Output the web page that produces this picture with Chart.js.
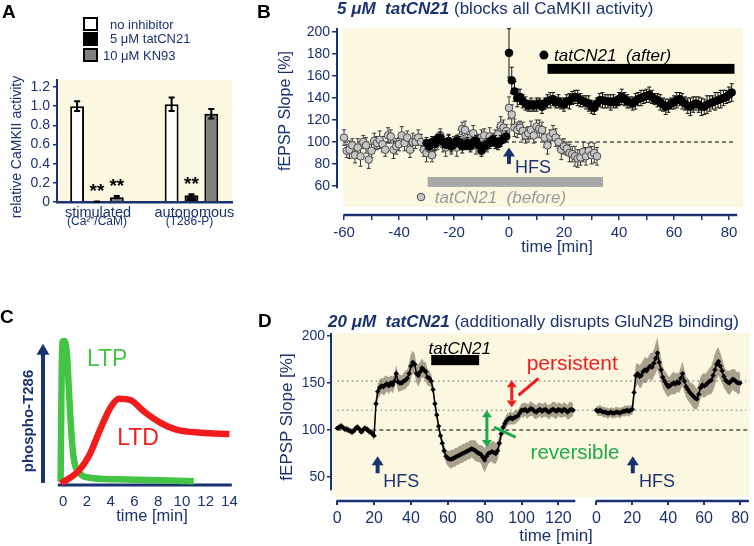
<!DOCTYPE html>
<html>
<head>
<meta charset="utf-8">
<script src="https://cdn.jsdelivr.net/npm/chart.js@4"></script>
<style>
body { margin: 0; width: 754px; height: 546px; position: relative; background: #fff; overflow: hidden;
       font-family: "Liberation Sans", Arial, sans-serif; }
canvas { position: absolute; }
.t { position: absolute; white-space: pre; color: #1a3270; }
.box { position: absolute; width: 11px; height: 10px; border: 2px solid #000; }
</style>
</head>
<body>
<canvas id="chartA" style="left:0;top:0" width="240" height="240"></canvas>
<canvas id="chartB" style="left:240px;top:0" width="514" height="270"></canvas>
<canvas id="chartC" style="left:0;top:290px" width="260" height="256"></canvas>
<canvas id="chartD" style="left:260px;top:290px" width="494" height="256"></canvas>

<div class="box" style="left:83px;top:17px;background:#fff"></div>
<div class="box" style="left:83px;top:32px;background:#000"></div>
<div class="box" style="left:83px;top:48px;background:#808080"></div>

<script>
const NAVY = '#1a3270';
const BEIGE = '#fcf7e1';
const FONT = '"Liberation Sans", Arial, sans-serif';

// ---------- Panel A data ----------
const aGroups = ['stimulated', 'autonomous'];
const aGroupSub = ['(Ca²⁺/CaM)', '(T286-P)'];
const aNoInhibitor = [1.00, 1.02];
const aNoInhibitorErr = [0.05, 0.07];
const aTatCN21 = [0.004, 0.07];
const aTatCN21Err = [0.002, 0.012];
const aKN93 = [0.05, 0.92];
const aKN93Err = [0.012, 0.05];
const aTatStars = ['**', '**'];
const aKN93Stars = ['**', ''];
const aYTicks = [0, 0.2, 0.4, 0.6, 0.8, 1.0, 1.2];

// ---------- Panel B data (1-min samples) ----------
const bBeforeStart = -60;
const bBefore = [104,92,93,97,88,95,87,100,97,84,92,101,99,102,98,93,106,105,93,96,98,106,99,104,93,100,100,104,100,93,
  90,94,88,96,100,106,98,95,100,96,99,95,104,112,111,100,104,108,97,101,104,106,98,105,102,104,107,115,113,110,
  131,125,113,111,113,110,106,108,111,106,114,112,111,104,97,105,108,104,100,93,96,94,90,89,87,85,86,91,87,92,88,90,87];
const bBeforeErr = [7,6,8,6,7,8,9,6,7,8,6,7,6,8,7,6,7,6,8,7,6,8,7,6,7,8,6,7,7,6,
  8,7,6,8,7,6,7,8,6,7,6,8,7,6,8,7,6,7,8,6,7,6,7,8,6,7,6,8,7,6,
  10,9,8,7,6,8,7,6,8,7,6,8,7,9,8,6,7,8,6,9,7,6,8,7,9,8,7,9,8,7,8,9,8];
const bAfterStart = -30;
const bAfter = [99,96,100,98,103,104,100,98,101,96,98,101,100,96,97,99,96,100,101,97,92,96,98,99,102,100,98,101,103,105,
  181,156,146,140,141,137,135,133,134,133,134,135,132,135,137,138,139,136,137,135,134,
  137,137,140,141,140,138,137,136,135,132, 131,135,138,138,137,137,136,137,136,139,
  141,139,137,136,135,137,139,140,141,142, 143,141,139,138,136,134,132,133,135,136,
  138,139,137,135,133,132,134,135,134,132, 132,134,135,136,137,138,139,140,141,143,145];
const bAfterErr = [5,4,5,6,4,5,5,4,6,5,4,5,5,6,4,5,5,4,5,6,5,4,5,5,4,6,5,5,4,5,
  22,12,9,8,7,6,6,5,6,5,6,5,6,5,6,7,6,5,6,5,6,
  6,7,6,6,7,6,5,6,7,6, 6,5,6,7,6,6,7,6,5,6, 7,6,6,5,6,7,6,7,6,6,
  7,6,5,6,7,6,7,6,5,6, 7,6,7,6,7,8,7,6,7,8, 7,8,7,6,8,7,8,7,6,7,8];
const bYTicks = [60, 80, 100, 120, 140, 160, 180, 200];
const bXTicks = [-60,-50,-40,-30,-20,-10,0,10,20,30,40,50,60,70,80];

// ---------- Panel C data ----------
const cLtpTime = [-0.22, -0.08, 0.11, 0.34, 0.48, 0.67, 0.9, 1.32, 2.0, 4.5, 11];
const cLtp = [0.005, 0.99, 1.0, 0.88, 0.65, 0.37, 0.16, 0.07, 0.035, 0.02, 0.007];
const cLtdTime = [-0.2, 1.3, 2.2, 3.1, 4.0, 4.7, 5.7, 6.8, 8.2, 9.6, 11.6, 14];
const cLtd = [-0.01, 0.08, 0.19, 0.37, 0.53, 0.59, 0.58, 0.5, 0.42, 0.37, 0.35, 0.34];
const cXTicks = [0, 2, 4, 6, 8, 10, 12, 14];

// ---------- Panel D data (1-min samples) ----------
const dLeft = [102,103,104,103,101,101,100,99,98,99,102,103,101,98,100,102,101,99,98,96,94,
  128,141,145,147,146,148,149,147,150,148, 152,160,151,150,150,152,153,155,160,168,
  172,170,160,158,162,166,164,162,156,155, 152,143,128,116,104,94,86,78,72,70,
  69,69,70,71,72,73,74,75,76,77, 78,79,80,79,78,76,75,74,71,68,
  72,75,76,77,76,75,78,86,96,103, 107,110,112,113,112,113,114,115,118,121,
  121,122,120,121,123,122,120,119,121,122, 120,121,122,120,119,121,122,121,120,122,
  121,120,122,121,119,121,122,121];
const dLeftErr = [3,3,4,3,3,4,3,3,4,3,3,4,3,3,4,3,3,4,3,4,5,
  8,8,9,8,9,10,8,9,8,9, 8,9,10,9,8,9,10,9,12,13, 12,11,10,12,11,10,9,10,9,8,
  7,6,6,6,5,5,6,6,7,8,
  9,10,9,10,9,10,9,10,9,10, 9,10,9,10,11,10,9,10,12,13, 12,11,10,11,12,11,10,8,7,6,
  6,7,6,7,6,7,7,6,7,7, 8,7,8,7,8,7,8,7,8,7, 8,7,8,7,8,7,8,9,8,7, 8,7,8,7,8,9,8,7];
const dRight = [121,120,121,120,119,119,118,118,119,118,118,119,119,118,119,120,120,121,120,121,122,
  140,158,160,157,158,162,164,163,166,168, 167,171,176,182,172,164,156,152,149,146,
  147,149,150,149,151,150,155,160,152,146, 143,140,138,136,134,133,138,145,148,147,
  148,150,152,153,158,164,170,173,168,163, 157,153,151,150,152,154,153,151,150,150];
const dRightErr = [5,5,6,5,6,5,6,5,5,6,5,6,5,6,5,5,6,5,6,5,6,
  10,12,11,12,13,12,14,13,12,14, 15,14,16,17,15,13,12,11,12,11, 10,11,12,11,10,11,12,13,12,11,
  12,11,12,13,12,11,12,11,12,13, 12,13,14,15,16,17,16,15,14,13, 12,11,12,13,12,11,12,11,12,11];
const dYTicks = [50, 100, 150, 200];
const dLeftTicks = [0, 20, 40, 60, 80, 100, 120];
const dRightTicks = [0, 20, 40, 60, 80];
// the second recording is drawn on the same x scale, shifted to the right
const dRightStart = 140.6;
const dRightScale = 0.975;

Chart.defaults.font.family = FONT;
Chart.defaults.color = NAVY;
Chart.defaults.animation = false;
Chart.defaults.plugins.legend.display = false;
Chart.defaults.plugins.tooltip.enabled = false;

// ---------- helpers ----------
function addText(html, x, cy, size, o = {}) {
    const d = document.createElement('div');
    d.className = 't';
    d.innerHTML = html;
    d.style.fontSize = size + 'px';
    d.style.lineHeight = size + 'px';
    d.style.left = x + 'px';
    d.style.top = cy + 'px';
    d.style.transform = o.rotate ? 'translate(-50%,-50%) rotate(-90deg)' : (o.center ? 'translate(-50%,-50%)' : 'translateY(-50%)');
    if (o.bold) d.style.fontWeight = 'bold';
    if (o.color) d.style.color = o.color;
    document.body.appendChild(d);
}

function txt(ctx, s, x, capY, font, size, color, align) {
    ctx.save();
    ctx.font = font.replace('SZ', size + 'px') + ' ' + FONT;
    ctx.fillStyle = color;
    ctx.textAlign = align || 'left';
    ctx.textBaseline = 'alphabetic';
    ctx.fillText(s, x, capY + size * 0.36);
    ctx.restore();
}

function arrow(ctx, x, yTail, yTip, color, lw, headW, headL, both) {
    const dir = Math.sign(yTip - yTail);
    ctx.save();
    ctx.strokeStyle = color;
    ctx.fillStyle = color;
    ctx.lineWidth = lw;
    ctx.beginPath();
    ctx.moveTo(x, both ? yTail + dir * headL : yTail);
    ctx.lineTo(x, yTip - dir * headL + dir);
    ctx.stroke();
    const head = (y, d) => {
        ctx.beginPath();
        ctx.moveTo(x, y);
        ctx.lineTo(x - headW / 2, y - d * headL);
        ctx.lineTo(x + headW / 2, y - d * headL);
        ctx.closePath();
        ctx.fill();
    };
    head(yTip, dir);
    if (both) head(yTail, -dir);
    ctx.restore();
}

function line(ctx, x1, y1, x2, y2, color, lw, dash) {
    ctx.save();
    ctx.strokeStyle = color;
    ctx.lineWidth = lw;
    if (dash) ctx.setLineDash(dash);
    ctx.beginPath();
    ctx.moveTo(x1, y1);
    ctx.lineTo(x2, y2);
    ctx.stroke();
    ctx.restore();
}

function drawErrors(chart, index) {
    const ds = chart.data.datasets[index];
    if (!ds.errors) return;
    const ctx = chart.ctx, ys = chart.scales.y;
    const meta = chart.getDatasetMeta(index);
    ctx.save();
    ctx.strokeStyle = ds.errorColor;
    ctx.lineWidth = ds.errorWidth;
    meta.data.forEach((el, i) => {
        const v = ds.data[i].y, e = ds.errors[i];
        const top = ys.getPixelForValue(v + e), bot = ys.getPixelForValue(v - e);
        const c = ds.capHalf;
        ctx.beginPath();
        ctx.moveTo(el.x, top); ctx.lineTo(el.x, bot);
        ctx.moveTo(el.x - c, top); ctx.lineTo(el.x + c, top);
        ctx.moveTo(el.x - c, bot); ctx.lineTo(el.x + c, bot);
        ctx.stroke();
    });
    ctx.restore();
}

const errorBars = {
    id: 'errorBars',
    beforeDatasetDraw(chart, args) { if (!chart.data.datasets[args.index].errorsOnTop) drawErrors(chart, args.index); },
    afterDatasetDraw(chart, args) { if (chart.data.datasets[args.index].errorsOnTop) drawErrors(chart, args.index); }
};

const toXY = (vals, start) => vals.map((v, i) => ({ x: start + i, y: v }));

// ---------- Panel A ----------
new Chart(document.getElementById('chartA'), {
    type: 'bar',
    data: {
        datasets: [
            { data: aNoInhibitor.map((v, i) => ({ x: i, y: v })), errors: aNoInhibitorErr, backgroundColor: '#ffffff' },
            { data: aTatCN21.map((v, i) => ({ x: i, y: v })), errors: aTatCN21Err, backgroundColor: '#000000', stars: aTatStars },
            { data: aKN93.map((v, i) => ({ x: i, y: v })), errors: aKN93Err, backgroundColor: '#808080', stars: aKN93Stars }
        ].map(d => Object.assign(d, {
            borderColor: '#000', borderWidth: 2, borderSkipped: 'bottom',
            barPercentage: 0.7, categoryPercentage: 0.6825,
            errorsOnTop: true, errorColor: '#000', errorWidth: 2, capHalf: 3
        }))
    },
    options: {
        responsive: false,
        layout: { padding: { top: 80, right: 8, left: 0, bottom: 0 } },
        scales: {
            x: {
                type: 'linear', min: -0.423, max: 1.429, offset: false,
                grid: { display: false, offset: false }, ticks: { display: false },
                border: { display: true, color: NAVY, width: 2.5 },
                afterFit(s) { s.height = 38; }
            },
            y: {
                min: 0, max: 1.273,
                afterBuildTicks(s) { s.ticks = aYTicks.map(v => ({ value: v })); },
                ticks: { font: { size: 14 }, padding: 3, callback: v => v === 0 ? '0' : v.toFixed(1) },
                grid: { drawOnChartArea: false, tickLength: 4, color: NAVY, lineWidth: 1.5 },
                border: { display: true, color: NAVY, width: 2 },
                afterFit(s) { s.width = 57; }
            }
        }
    },
    plugins: [errorBars, {
        id: 'panelA',
        beforeDraw(chart) {
            const { ctx, chartArea: a } = chart;
            ctx.save();
            ctx.fillStyle = BEIGE;
            ctx.fillRect(a.left, a.top, a.right - a.left, a.bottom - a.top);
            ctx.restore();
        },
        afterDraw(chart) {
            const { ctx, scales: { x, y } } = chart;
            aGroups.forEach((g, i) => {
                txt(ctx, g, x.getPixelForValue(i) + 1 + 2 * i, 212, 'SZ', 14.5, NAVY, 'center');
                txt(ctx, aGroupSub[i], x.getPixelForValue(i) - 2 * i, 221, 'SZ', 12, NAVY, 'center');
            });
            chart.data.datasets.forEach((ds, di) => {
                if (!ds.stars) return;
                chart.getDatasetMeta(di).data.forEach((el, i) => {
                    if (!ds.stars[i]) return;
                    const top = y.getPixelForValue(ds.data[i].y + ds.errors[i]);
                    txt(ctx, ds.stars[i], el.x, top - 11, 'bold SZ', 19, '#000', 'center');
                });
            });
        }
    }]
});

// ---------- Panel B ----------
new Chart(document.getElementById('chartB'), {
    type: 'scatter',
    data: {
        datasets: [
            { data: toXY(bAfter, bAfterStart), errors: bAfterErr, errorColor: '#111', errorWidth: 1, capHalf: 2,
              pointRadius: 3.8, pointBackgroundColor: '#000', pointBorderColor: '#000', pointBorderWidth: 1 },
            { data: toXY(bBefore, bBeforeStart), errors: bBeforeErr, errorColor: '#3a3a3a', errorWidth: 1, capHalf: 2,
              pointRadius: 3.8, pointBackgroundColor: '#c6c6c6', pointBorderColor: '#4a4a4a', pointBorderWidth: 1 }
        ]
    },
    options: {
        responsive: false,
        layout: { padding: { top: 28, right: 11, left: 0, bottom: 0 } },
        scales: {
            x: {
                type: 'linear', min: -62.55, max: 85.1,
                afterBuildTicks(s) { s.ticks = bXTicks.map(v => ({ value: v })); },
                ticks: { font: { size: 15 }, padding: 4, autoSkip: false, maxRotation: 0,
                         callback: v => v % 20 === 0 ? v : '' },
                grid: { drawOnChartArea: false, tickLength: 5, color: NAVY, lineWidth: 1.5 },
                border: { display: false },
                afterFit(s) { s.height = 55; }
            },
            y: {
                min: 33.64, max: 203.64,
                afterBuildTicks(s) { s.ticks = bYTicks.map(v => ({ value: v })); },
                ticks: { font: { size: 14 }, padding: 2 },
                grid: { drawOnChartArea: false, tickLength: 5, color: NAVY, lineWidth: 1.5 },
                border: { display: false },
                afterFit(s) { s.width = 97; }
            }
        }
    },
    plugins: [errorBars, {
        id: 'panelB',
        beforeDraw(chart) {
            const { ctx, chartArea: a, scales: { x, y } } = chart;
            ctx.save();
            ctx.fillStyle = BEIGE;
            const l = x.getPixelForValue(-60.2), b = y.getPixelForValue(40.9);
            ctx.fillRect(l, a.top, a.right - l, b - a.top);
            ctx.restore();
            line(ctx, x.getPixelForValue(-60), y.getPixelForValue(100), x.getPixelForValue(81.5), y.getPixelForValue(100), '#000', 1, [4, 3]);
            line(ctx, a.left, a.top, a.left, y.getPixelForValue(58), NAVY, 2);
            line(ctx, x.getPixelForValue(-60.2), a.bottom, x.getPixelForValue(83), a.bottom, NAVY, 2.5);
        },
        afterDatasetsDraw(chart) {
            const { ctx, scales: { x, y } } = chart;
            // bars marking drug application
            ctx.save();
            ctx.fillStyle = '#000';
            ctx.fillRect(x.getPixelForValue(14), y.getPixelForValue(171), x.getPixelForValue(82) - x.getPixelForValue(14), y.getPixelForValue(162) - y.getPixelForValue(171));
            ctx.fillStyle = '#a8a8a8';
            ctx.fillRect(x.getPixelForValue(-29.6), y.getPixelForValue(68.2), x.getPixelForValue(34.2) - x.getPixelForValue(-29.6), y.getPixelForValue(59.2) - y.getPixelForValue(68.2));
            ctx.beginPath();
            ctx.arc(x.getPixelForValue(12.7), y.getPixelForValue(179), 4.5, 0, Math.PI * 2);
            ctx.fillStyle = '#000';
            ctx.fill();
            ctx.beginPath();
            ctx.arc(x.getPixelForValue(-32), y.getPixelForValue(50), 3.8, 0, Math.PI * 2);
            ctx.fillStyle = '#c6c6c6';
            ctx.fill();
            ctx.strokeStyle = '#4a4a4a';
            ctx.stroke();
            ctx.restore();
            txt(ctx, 'tatCN21  (after)', x.getPixelForValue(16.4), y.getPixelForValue(179), 'italic SZ', 17, '#000');
            txt(ctx, 'tatCN21  (before)', x.getPixelForValue(-27), y.getPixelForValue(50), 'italic SZ', 17, '#9a9a9a');
            arrow(ctx, x.getPixelForValue(0), y.getPixelForValue(80), y.getPixelForValue(95), NAVY, 4, 12, 9);
            txt(ctx, 'HFS', x.getPixelForValue(2.2), y.getPixelForValue(78), 'SZ', 18, NAVY);
        }
    }]
});

// ---------- Panel C ----------
new Chart(document.getElementById('chartC'), {
    type: 'line',
    data: {
        datasets: [
            { data: cLtdTime.map((t, i) => ({ x: t, y: cLtd[i] })), borderColor: '#f21c1c' },
            { data: cLtpTime.map((t, i) => ({ x: t, y: cLtp[i] })), borderColor: '#44c444' }
        ].map(d => Object.assign(d, { borderWidth: 6.5, pointRadius: 0, cubicInterpolationMode: 'monotone', borderCapStyle: 'butt' }))
    },
    options: {
        responsive: false,
        layout: { padding: { top: 48, right: 27, left: 43, bottom: 0 } },
        scales: {
            x: {
                type: 'linear', min: -1.7, max: 14.3,
                afterBuildTicks(s) { s.ticks = cXTicks.map(v => ({ value: v })); },
                ticks: { font: { size: 15 }, padding: 8, autoSkip: false, maxRotation: 0 },
                grid: { display: false, drawTicks: false },
                border: { display: false },
                afterFit(s) { s.height = 61; }
            },
            y: { display: false, min: -0.02, max: 1.02 }
        }
    },
    plugins: [{
        id: 'panelC',
        beforeDatasetsDraw(chart) {
            const { ctx, chartArea: a, scales: { x, y } } = chart;
            line(ctx, x.getPixelForValue(-0.45), a.bottom, x.getPixelForValue(14.2), a.bottom, NAVY, 3);
            arrow(ctx, a.left, y.getPixelForValue(-0.005), y.getPixelForValue(0.98), NAVY, 4, 13, 11);
        },
        afterDatasetsDraw(chart) {
            const { ctx, scales: { x, y } } = chart;
            txt(ctx, 'LTP', x.getPixelForValue(2.0), y.getPixelForValue(0.88), 'SZ', 23, '#44c444');
            txt(ctx, 'LTD', x.getPixelForValue(4.55), y.getPixelForValue(0.32), 'SZ', 23, '#f21c1c');
        }
    }]
});

// ---------- Panel D ----------
const dJoin = (l, r) => [
    ...l.map((v, i) => ({ x: i, y: v })),
    { x: (l.length + dRightStart) / 2, y: null },
    ...r.map((v, i) => ({ x: dRightStart + dRightScale * i, y: v }))
];
const dTickVals = [...dLeftTicks, ...dRightTicks.map(t => dRightStart + dRightScale * t)];
const dTickLabels = [...dLeftTicks, ...dRightTicks];

new Chart(document.getElementById('chartD'), {
    type: 'line',
    data: {
        datasets: [
            { data: dJoin(dLeft, dRight), borderColor: '#000', borderWidth: 1.5, pointStyle: 'rectRot',
              pointRadius: 2.7, pointBackgroundColor: '#000', pointBorderWidth: 0, order: 0 },
            { data: dJoin(dLeft.map((v, i) => v + dLeftErr[i]), dRight.map((v, i) => v + dRightErr[i])),
              borderWidth: 0, pointRadius: 0, fill: '+1', backgroundColor: 'rgba(100,90,75,0.55)', order: 1 },
            { data: dJoin(dLeft.map((v, i) => v - dLeftErr[i]), dRight.map((v, i) => v - dRightErr[i])),
              borderWidth: 0, pointRadius: 0, order: 2 }
        ]
    },
    options: {
        responsive: false,
        spanGaps: false,
        layout: { padding: { top: 43, right: 1, left: 0, bottom: 0 } },
        scales: {
            x: {
                type: 'linear', min: -3.4, max: 224,
                afterBuildTicks(s) { s.ticks = dTickVals.map(v => ({ value: v })); },
                ticks: { font: { size: 16 }, padding: 4, autoSkip: false, maxRotation: 0,
                         callback: (v, i) => dTickLabels[i] },
                grid: { drawOnChartArea: false, tickLength: 4, color: NAVY, lineWidth: 2 },
                border: { display: false },
                afterFit(s) { s.height = 45; }
            },
            y: {
                min: 24.5, max: 203.2,
                afterBuildTicks(s) { s.ticks = dYTicks.map(v => ({ value: v })); },
                ticks: { font: { size: 14 }, padding: 2 },
                grid: { drawOnChartArea: false, tickLength: 4, color: NAVY, lineWidth: 1.5 },
                border: { display: false },
                afterFit(s) { s.width = 71; }
            }
        }
    },
    plugins: [{
        id: 'panelD',
        beforeDraw(chart) {
            const { ctx, chartArea: a, scales: { x, y } } = chart;
            ctx.save();
            ctx.fillStyle = BEIGE;
            ctx.fillRect(a.left, a.top, a.right - a.left, y.getPixelForValue(28.7) - a.top);
            ctx.restore();
            line(ctx, x.getPixelForValue(0), y.getPixelForValue(152), x.getPixelForValue(222), y.getPixelForValue(152), '#a0a0a0', 1.6, [1.6, 3.2]);
            line(ctx, x.getPixelForValue(0), y.getPixelForValue(121), x.getPixelForValue(222), y.getPixelForValue(121), '#a0a0a0', 1.6, [1.6, 3.2]);
            line(ctx, x.getPixelForValue(0), y.getPixelForValue(100), x.getPixelForValue(223), y.getPixelForValue(100), '#000', 1.2, [4, 3]);
            line(ctx, a.left, a.top, a.left, y.getPixelForValue(36), NAVY, 2);
            line(ctx, x.getPixelForValue(-0.5), a.bottom, x.getPixelForValue(129.2), a.bottom, NAVY, 2.5);
            line(ctx, x.getPixelForValue(140.3), a.bottom, x.getPixelForValue(223.4), a.bottom, NAVY, 2.5);
        },
        afterDatasetsDraw(chart) {
            const { ctx, scales: { x, y } } = chart;
            ctx.save();
            ctx.fillStyle = '#000';
            ctx.fillRect(x.getPixelForValue(51), y.getPixelForValue(179.8), x.getPixelForValue(77) - x.getPixelForValue(51), y.getPixelForValue(169) - y.getPixelForValue(179.8));
            ctx.restore();
            txt(ctx, 'tatCN21', x.getPixelForValue(66.5), y.getPixelForValue(187.5), 'italic SZ', 17, '#000', 'center');
            arrow(ctx, x.getPixelForValue(21.9), y.getPixelForValue(54), y.getPixelForValue(72), NAVY, 4, 12, 9);
            txt(ctx, 'HFS', x.getPixelForValue(25), y.getPixelForValue(46.5), 'SZ', 18, NAVY);
            arrow(ctx, x.getPixelForValue(160.4), y.getPixelForValue(54), y.getPixelForValue(72), NAVY, 4, 12, 9);
            txt(ctx, 'HFS', x.getPixelForValue(163.8), y.getPixelForValue(46.5), 'SZ', 18, NAVY);
            // persistent / reversible markers
            arrow(ctx, x.getPixelForValue(94.7), y.getPixelForValue(124), y.getPixelForValue(153), '#f21c1c', 3, 10, 7, true);
            line(ctx, x.getPixelForValue(98.4), y.getPixelForValue(137), x.getPixelForValue(109.2), y.getPixelForValue(155), '#f21c1c', 3);
            txt(ctx, 'persistent', x.getPixelForValue(102.8), y.getPixelForValue(172), 'SZ', 21, '#f21c1c');
            arrow(ctx, x.getPixelForValue(81.2), y.getPixelForValue(82), y.getPixelForValue(121), '#1faa4a', 3, 10, 7, true);
            line(ctx, x.getPixelForValue(85), y.getPixelForValue(103), x.getPixelForValue(96.8), y.getPixelForValue(92.5), '#1faa4a', 3);
            txt(ctx, 'reversible', x.getPixelForValue(104.9), y.getPixelForValue(76.6), 'SZ', 20.5, '#1faa4a');
        }
    }]
});

// ---------- text outside the plots ----------
addText('A', 2, 11, 19, { bold: true, color: '#000' });
addText('no inhibitor', 110, 24, 13);
addText('5 μM tatCN21', 110, 38, 13);
addText('10 μM KN93', 103, 55, 13);
addText('relative CaMKII activity', 16, 147, 14, { rotate: true });

addText('B', 257, 11, 19, { bold: true, color: '#000' });
addText('<b><i>5 μM&nbsp; tatCN21</i></b> (blocks all CaMKII activity)', 337, 8, 17);
addText('fEPSP Slope [%]', 285, 111, 16, { rotate: true });
addText('time [min]', 557, 246, 16.5, { center: true });

addText('C', 0, 316, 19, { bold: true, color: '#000' });
addText('phospho-T286', 27, 421, 15, { rotate: true, bold: true });
addText('time [min]', 152, 515, 16.5, { center: true });

addText('D', 258, 320, 19, { bold: true, color: '#000' });
addText('<b><i>20 μM&nbsp; tatCN21</i></b> (additionally disrupts GluN2B binding)', 328, 321, 17);
addText('fEPSP Slope [%]', 286, 417, 17, { rotate: true });
addText('time [min]', 556, 535, 17, { center: true });
</script>
</body>
</html>
